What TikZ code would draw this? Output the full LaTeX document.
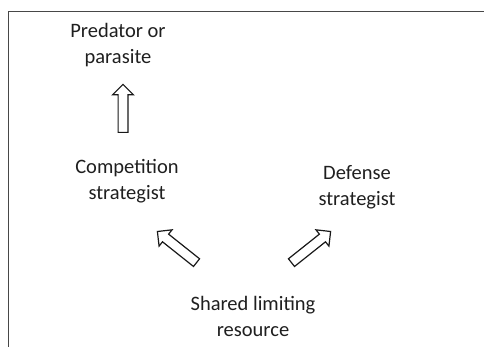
\documentclass[tikz,border=0pt]{standalone}
\usepackage{fontspec}
\setmainfont{Carlito}
\usepackage{tikz}
\usetikzlibrary{shapes.arrows}
\tikzset{
	txt/.style={align=center, font=\fontsize{20.5}{26}\selectfont, text=black!88},
	blockarrow/.style={single arrow, draw=black!90, line width=1.2pt, fill=white, inner sep=4.3pt, single arrow head extend=5.5pt, anchor=tail}
}

\begin{document}
\begin{tikzpicture}[x=1pt, y=-1pt]
		\useasboundingbox (0,0) rectangle (484,347);
		\draw [line width=1.8pt, draw=black!72] (8.5,347) -- (8.5,11.5) -- (484,11.5);
		
		\node[txt] (pred) at (118,45) {Predator or\\parasite};
		\node[txt] (comp) at (127,181) {Competition\\strategist};
		\node[txt] (def) at (357,187) {Defense\\strategist};
		\node[txt] (res) at (253,316) {Shared limiting\\resource};
		
		\node[blockarrow, minimum height=48pt, rotate=90] (upArr) at (123,133) {};
		\node[blockarrow, minimum height=50pt, rotate=141.5] (leftArr) at (197,263) {};
		\node[blockarrow, minimum height=50pt, rotate=38.5] (rightArr) at (291,263) {};
	\end{tikzpicture}
\end{document}
